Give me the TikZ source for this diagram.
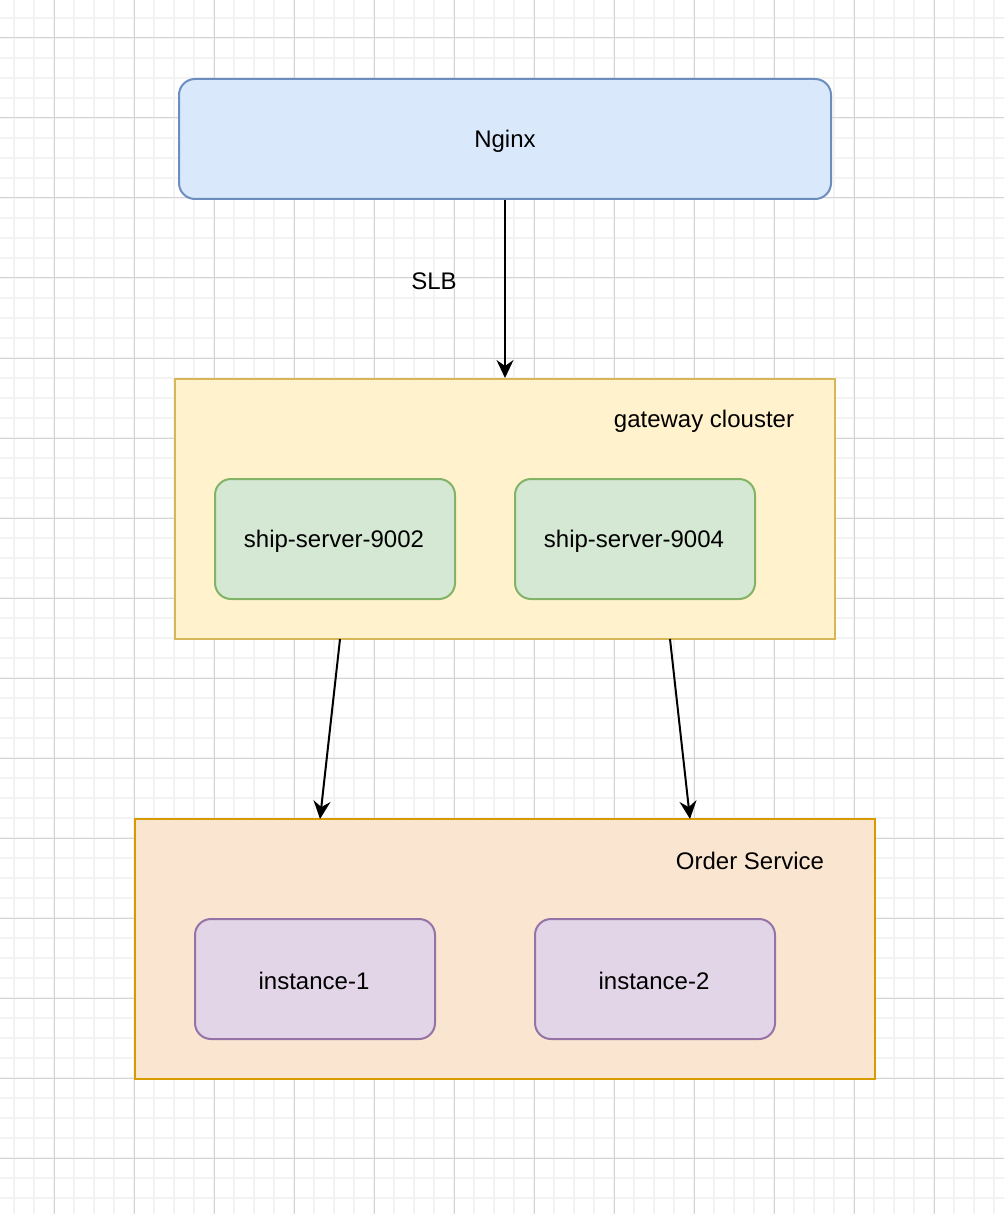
\documentclass[tikz,border=0pt]{standalone}
\usepackage{fontspec}
\setmainfont{Liberation Sans}
\usetikzlibrary{arrows.meta}
\definecolor{nfill}{HTML}{DAE8FC}\definecolor{nstroke}{HTML}{6C8EBF}
\definecolor{gfill}{HTML}{FFF2CC}\definecolor{gstroke}{HTML}{D6B656}
\definecolor{sfill}{HTML}{D5E8D4}\definecolor{sstroke}{HTML}{82B366}
\definecolor{ofill}{HTML}{FAE6D0}\definecolor{ostroke}{HTML}{D79B00}
\definecolor{ifill}{HTML}{E1D5E7}\definecolor{istroke}{HTML}{9673A6}
\definecolor{gminor}{HTML}{F3F3F3}\definecolor{gmajor}{HTML}{D4D4D4}
\begin{document}
\begin{tikzpicture}[x=1pt,y=-1pt,
  lbl/.style={font=\fontsize{24}{28}\selectfont, text=black, inner sep=0},
  rbox/.style={draw, line width=2, rounded corners=16, inner sep=0},
  sbox/.style={draw, line width=2, inner sep=0},
  arr/.style={line width=2, -{Stealth[length=18, width=17, inset=6]}}]
\useasboundingbox (0,0) rectangle (1004,1214);
\fill[white] (0,0) rectangle (1004,1214);
\begin{scope}
\clip (0,0) rectangle (1004,1214);
\foreach \i in {0,...,50} \draw[gminor, line width=2] (14+20*\i,0) -- (14+20*\i,1214);
\foreach \i in {0,...,61} \draw[gminor, line width=2] (0,-2+20*\i) -- (1004,-2+20*\i);
\foreach \i in {0,...,12} \draw[gmajor, line width=1] (54+80*\i,0) -- (54+80*\i,1214);
\foreach \i in {0,...,15} \draw[gmajor, line width=1] (0,38+80*\i) -- (1004,38+80*\i);
\end{scope}
% Nginx
\node[rbox, draw=nstroke, fill=nfill, minimum width=652, minimum height=120] (nginx) at (505,139) {};
\node[lbl] (nginxt) at (505,141) {Nginx};
% gateway cluster
\node[sbox, draw=gstroke, fill=gfill, minimum width=660, minimum height=260] (gw) at (505,509) {};
\node[lbl] (gwt) at (704,421) {gateway clouster};
\node[rbox, draw=sstroke, fill=sfill, minimum width=240, minimum height=120] (s1) at (335,539) {};
\node[lbl] (s1t) at (334,541) {ship-server-9002};
\node[rbox, draw=sstroke, fill=sfill, minimum width=240, minimum height=120] (s2) at (635,539) {};
\node[lbl] (s2t) at (634,541) {ship-server-9004};
% order service
\node[sbox, draw=ostroke, fill=ofill, minimum width=740, minimum height=260] (os) at (505,949) {};
\node[lbl] (ost) at (750,861) {Order Service};
\node[rbox, draw=istroke, fill=ifill, minimum width=240, minimum height=120] (i1) at (315,979) {};
\node[lbl] (i1t) at (314,981) {instance-1};
\node[rbox, draw=istroke, fill=ifill, minimum width=240, minimum height=120] (i2) at (655,979) {};
\node[lbl] (i2t) at (654,981) {instance-2};
% SLB
\node[lbl] (slb) at (434,281) {SLB};
% arrows
\draw[arr] (nginx.south) -- (gw.north);
\coordinate (g1) at (340,639); \coordinate (o1) at (320,819);
\coordinate (g2) at (670,639); \coordinate (o2) at (690,819);
\draw[arr] (g1) -- (o1);
\draw[arr] (g2) -- (o2);
\end{tikzpicture}
\end{document}
